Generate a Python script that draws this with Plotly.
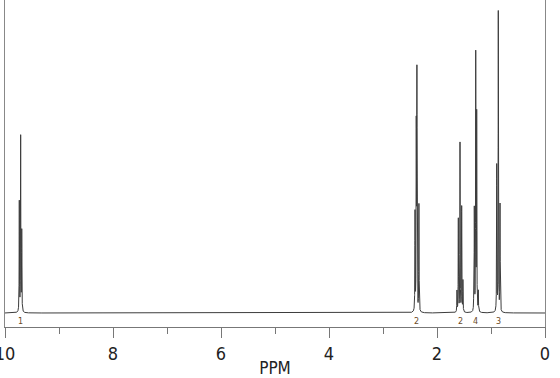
import numpy as np
import plotly.graph_objects as go

# Peak list: chemical shift (ppm) and height (intensity units)
peak_ppm = [9.735, 9.710, 9.690,
            2.407, 2.383, 2.372, 2.335,
            1.630, 1.605, 1.574, 1.543, 1.520,
            1.320, 1.309, 1.283, 1.265, 1.235,
            0.894, 0.865, 0.833]
peak_height = [110, 175, 80,
               98, 228, 231, 107,
               21, 93, 169, 105, 31,
               11, 102, 256, 196, 20,
               146, 300, 107]
line_hwhm = 0.003

# Integration labels
integ_ppm = [9.71, 2.38, 1.57, 1.28, 0.865]
integ_text = ["1", "2", "2", "4", "3"]

tick_vals = [10, 8, 6, 4, 2, 0]
tick_text = ["10", "8", "6", "4", "2", "0"]

x = np.linspace(10, 0, 40001)
y = np.zeros_like(x)
for p, h in zip(peak_ppm, peak_height):
    y += h / (1 + ((x - p) / line_hwhm) ** 2)

fig = go.Figure()
fig.add_trace(go.Scatter(x=x, y=y, mode="lines",
                         line=dict(color="#3c3c3c", width=1),
                         hoverinfo="skip", showlegend=False))

for p, t in zip(integ_ppm, integ_text):
    fig.add_annotation(x=p, y=-8, text=t, showarrow=False,
                       font=dict(family="DejaVu Sans", size=8, color="#6b4a1f"),
                       xanchor="center", yanchor="middle")

narrow = "DejaVu Sans Condensed, Liberation Sans Narrow, sans-serif"
fig.update_layout(
    width=560, height=378,
    margin=dict(l=5, r=15, t=0, b=51),
    paper_bgcolor="white", plot_bgcolor="white",
    xaxis=dict(range=[10, 0], showgrid=False, zeroline=False, automargin=False,
               showline=True, linecolor="#777777", linewidth=1,
               ticks="outside", ticklen=10, tickcolor="#777777",
               tickvals=tick_vals, ticktext=tick_text,
               ticklabeloverflow="allow",
               tickfont=dict(family=narrow, size=18, color="#222222"),
               minor=dict(dtick=1, ticklen=6, tickcolor="#777777", ticks="outside", showgrid=False),
               title=dict(text="PPM", font=dict(family=narrow, size=17, color="#222222"), standoff=3)),
    yaxis=dict(range=[-14, 313], showgrid=False, zeroline=False, automargin=False,
               showline=True, mirror=True, linecolor="#888888", linewidth=1,
               showticklabels=False, ticks=""),
)

fig.write_html("out.html")
